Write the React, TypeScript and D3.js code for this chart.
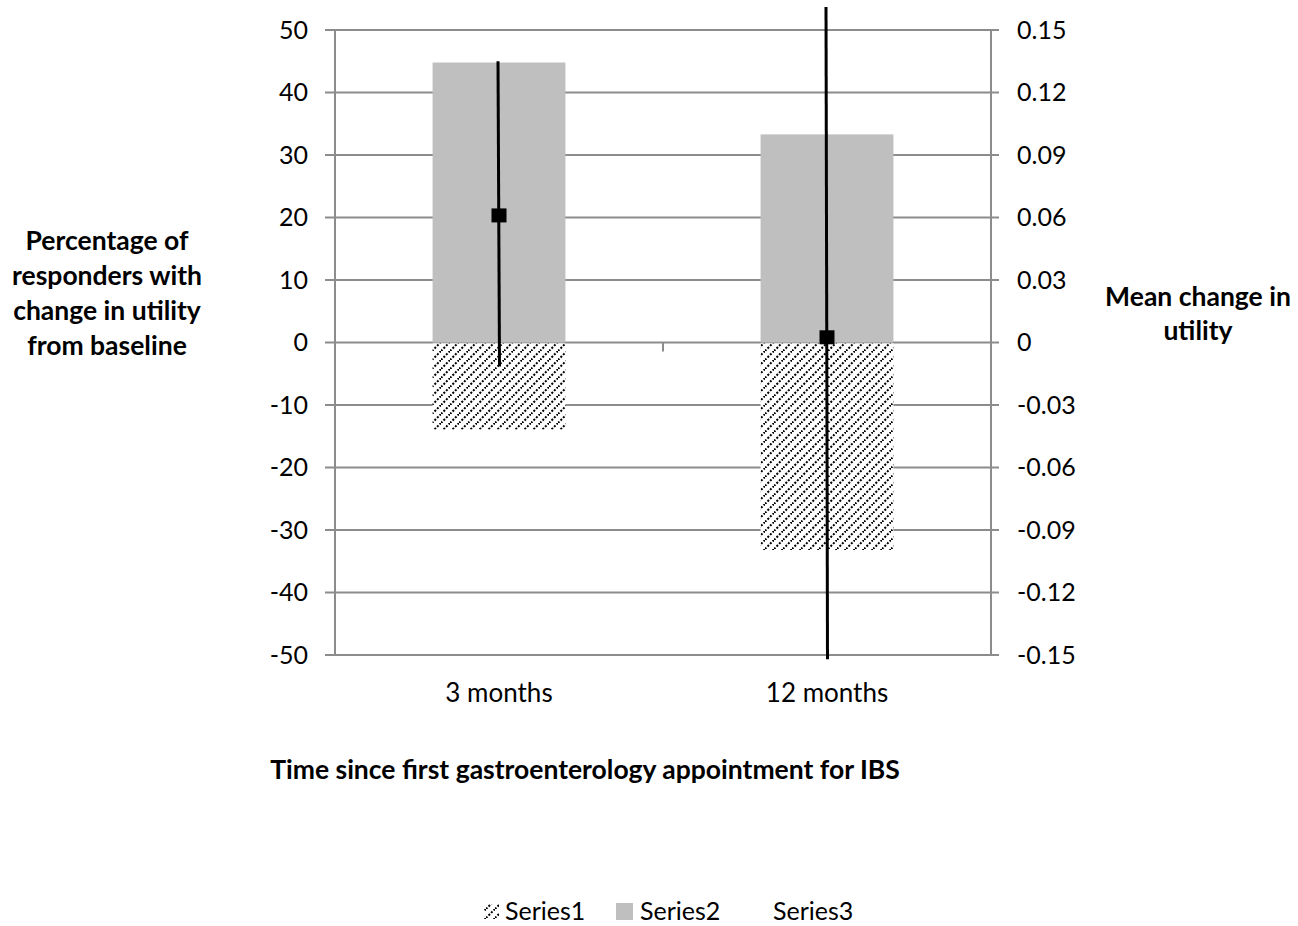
import { useEffect, useRef } from "react";
import * as d3 from "d3";

const categories = ["3 months", "12 months"];
const series1 = [-13.9, -33.2]; // hatched, negative share
const series2 = [44.8, 33.3]; // grey, positive share
const series3 = [0.061, 0.0025]; // mean change in utility
const series3Upper = [0.135, 0.161];
const series3Lower = [-0.0115, -0.152];
const leftTicks = [-50, -40, -30, -20, -10, 0, 10, 20, 30, 40, 50];
const rightTicks = [-0.15, -0.12, -0.09, -0.06, -0.03, 0, 0.03, 0.06, 0.09, 0.12, 0.15];

const W = 1298;
const H = 926;
const FONT = "Lato, 'Open Sans', sans-serif";

export default function App() {
  const svgRef = useRef<SVGSVGElement>(null);

  useEffect(() => {
    document.body.style.margin = "0";
    document.body.style.overflow = "hidden";
    if (!svgRef.current) return;
    const svg = d3.select(svgRef.current);
    svg.selectAll("*").remove();

    const left = 335;
    const right = 991;
    const top = 30;
    const bottom = 655;

    const x = d3.scaleBand<string>().domain(categories).range([left, right]).padding(0);
    const y = d3.scaleLinear().domain([-50, 50]).range([bottom, top]);
    const y2 = d3.scaleLinear().domain([-0.15, 0.15]).range([bottom, top]);
    const barW = x.bandwidth() * 0.405;
    const cx = (c: string) => (x(c) as number) + x.bandwidth() / 2;

    const defs = svg.append("defs");
    const T = 9;
    const pat = defs
      .append("pattern")
      .attr("id", "hatch")
      .attr("patternUnits", "userSpaceOnUse")
      .attr("width", T)
      .attr("height", T);
    pat.append("rect").attr("width", T).attr("height", T).attr("fill", "#fff");
    pat
      .append("path")
      .attr("d", `M-2,2 L2,-2 M0,${T} L${T},0 M${T - 2},${T + 2} L${T + 2},${T - 2}`)
      .attr("stroke", "#000")
      .attr("stroke-width", 2)
      .attr("stroke-dasharray", "2 1.6");

    // gridlines + left ticks
    svg
      .append("g")
      .selectAll("line")
      .data(leftTicks)
      .enter()
      .append("line")
      .attr("x1", left - 10)
      .attr("x2", right + 8)
      .attr("y1", (d) => y(d))
      .attr("y2", (d) => y(d))
      .attr("stroke", "#8c8c8c")
      .attr("stroke-width", 2);

    // axes
    [left, right].forEach((xx) =>
      svg
        .append("line")
        .attr("x1", xx)
        .attr("x2", xx)
        .attr("y1", top)
        .attr("y2", bottom)
        .attr("stroke", "#8c8c8c")
        .attr("stroke-width", 2)
    );
    // category separator tick on zero line
    svg
      .append("line")
      .attr("x1", (left + right) / 2)
      .attr("x2", (left + right) / 2)
      .attr("y1", y(0))
      .attr("y2", y(0) + 9)
      .attr("stroke", "#8c8c8c")
      .attr("stroke-width", 2);

    // left tick labels
    svg
      .append("g")
      .selectAll("text")
      .data(leftTicks)
      .enter()
      .append("text")
      .attr("x", 308)
      .attr("y", (d) => y(d))
      .attr("dy", "0.35em")
      .attr("text-anchor", "end")
      .attr("font-family", FONT)
      .attr("font-size", 25)
      .attr("fill", "#000")
      .text((d) => String(d));

    // right tick labels
    svg
      .append("g")
      .selectAll("text")
      .data(rightTicks)
      .enter()
      .append("text")
      .attr("x", 1017)
      .attr("y", (d) => y2(d))
      .attr("dy", "0.35em")
      .attr("text-anchor", "start")
      .attr("font-family", FONT)
      .attr("font-size", 25)
      .attr("fill", "#000")
      .text((d) => (d === 0 ? "0" : d3.format(".2f")(d).replace("\u2212", "-")));

    // series2 bars
    svg
      .append("g")
      .selectAll("rect")
      .data(categories)
      .enter()
      .append("rect")
      .attr("x", (c) => cx(c) - barW / 2)
      .attr("width", barW)
      .attr("y", (_, i) => y(series2[i]))
      .attr("height", (_, i) => y(0) - y(series2[i]))
      .attr("fill", "#bfbfbf");

    // series1 bars
    svg
      .append("g")
      .selectAll("rect")
      .data(categories)
      .enter()
      .append("rect")
      .attr("x", (c) => cx(c) - barW / 2)
      .attr("width", barW)
      .attr("y", y(0) + 1)
      .attr("height", (_, i) => y(series1[i]) - y(0) - 1)
      .attr("fill", "url(#hatch)");

    // series3 error bars
    svg
      .append("g")
      .selectAll("line")
      .data(categories)
      .enter()
      .append("line")
      .attr("x1", (c) => cx(c) - 1)
      .attr("x2", (c) => cx(c) + 0.5)
      .attr("y1", (_, i) => y2(series3Upper[i]))
      .attr("y2", (_, i) => y2(series3Lower[i]))
      .attr("stroke", "#000")
      .attr("stroke-width", 3);

    svg
      .append("g")
      .selectAll("rect")
      .data(categories)
      .enter()
      .append("rect")
      .attr("x", (c) => cx(c) - 7.5)
      .attr("y", (_, i) => y2(series3[i]) - 7)
      .attr("width", 15)
      .attr("height", 14)
      .attr("fill", "#000");

    // category labels
    svg
      .append("g")
      .selectAll("text")
      .data(categories)
      .enter()
      .append("text")
      .attr("x", (c) => cx(c))
      .attr("y", 693)
      .attr("dy", "0.35em")
      .attr("text-anchor", "middle")
      .attr("font-family", FONT)
      .attr("font-size", 26)
      .text((c) => c);

    const bold = (t: string, xx: number, yy: number) =>
      svg
        .append("text")
        .attr("x", xx)
        .attr("y", yy)
        .attr("dy", "0.35em")
        .attr("text-anchor", "middle")
        .attr("font-family", FONT)
        .attr("font-weight", "bold")
        .attr("font-size", 26.5)
        .text(t);

    ["Percentage of", "responders with", "change in utility", "from baseline"].forEach((t, i) =>
      bold(t, 107, 241 + i * 35)
    );
    ["Mean change in", "utility"].forEach((t, i) => bold(t, 1198, 297 + i * 34));
    bold("Time since first gastroenterology appointment for IBS", 585, 770);

    // legend
    const lg = svg.append("g").attr("font-family", FONT).attr("font-size", 25);
    lg.append("rect").attr("x", 484).attr("y", 904).attr("width", 15).attr("height", 15).attr("fill", "url(#hatch)");
    lg.append("text").attr("x", 505).attr("y", 911).attr("dy", "0.35em").text("Series1");
    lg.append("rect").attr("x", 616).attr("y", 903).attr("width", 17).attr("height", 17).attr("fill", "#bfbfbf");
    lg.append("text").attr("x", 640).attr("y", 911).attr("dy", "0.35em").text("Series2");
    lg.append("text").attr("x", 773).attr("y", 911).attr("dy", "0.35em").text("Series3");
  }, []);

  return <svg ref={svgRef} width={W} height={H} style={{ display: "block", background: "#fff" }} />;
}
